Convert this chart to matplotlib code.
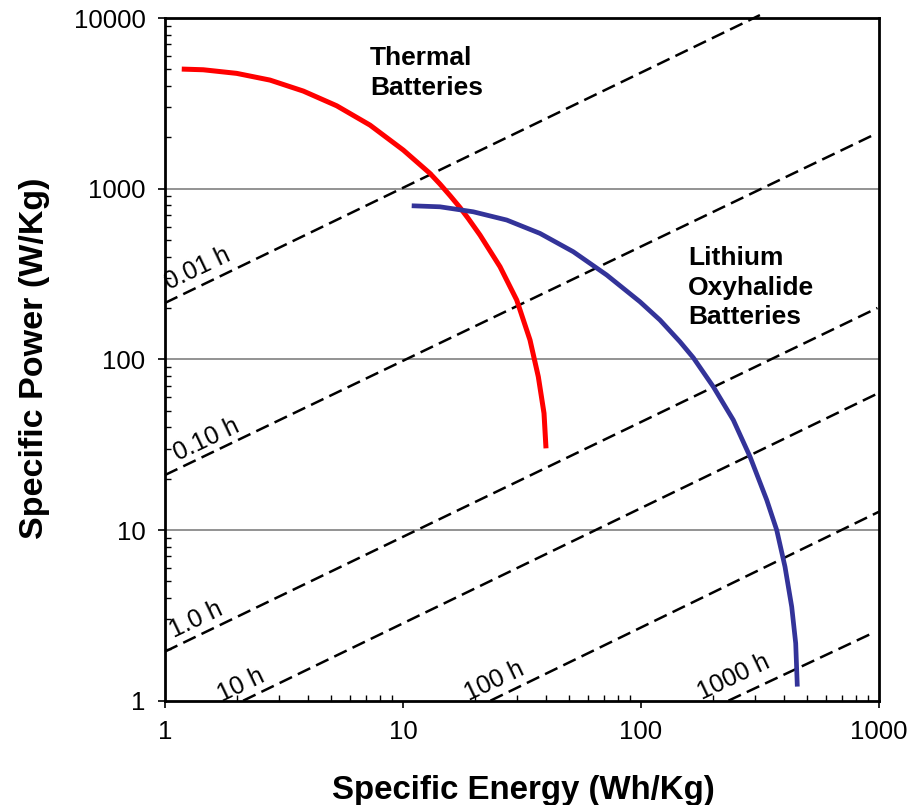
import matplotlib
matplotlib.use("Agg")
import matplotlib.pyplot as plt
from matplotlib.ticker import LogLocator, NullFormatter, FixedLocator, FixedFormatter

plt.rcParams['font.family'] = ['Liberation Sans', 'DejaVu Sans']

# ---- data ----
thermal_energy = [1.176, 1.448, 2.001, 2.762, 3.812, 5.265, 7.266, 10.03, 12.98, 14.30,
                  15.76, 17.36, 18.81, 21.06, 25.56, 30.05, 34.17, 37.03, 39.13, 39.89]
thermal_power = [5020, 4974, 4738, 4327, 3731, 3060, 2358, 1683, 1229, 1064,
                 911, 775, 668, 535, 349, 222.6, 129.8, 79.1, 48.3, 30.1]

lithium_energy = [10.88, 14.30, 19.74, 27.28, 37.63, 51.95, 71.77, 99.0, 120.2, 145.8,
                  165.9, 201.3, 244.3, 287.1, 337.5, 371.7, 402.7, 429.8, 446.7, 453.7]
lithium_power = [794, 783, 732, 655, 547, 427, 312, 217.5, 169.9, 126.8,
                 102.2, 69.1, 44.1, 26.9, 15.0, 10.0, 6.10, 3.55, 2.17, 1.21]

# constant-discharge-time guide lines: (E_start, P_start) -> (E_end, P_end)
time_labels = ["0.01 h", "0.10 h", "1.0 h", "10 h", "100 h", "1000 h"]
line_e_start = [1, 1, 1, 2.13, 23.3, 233]
line_p_start = [214, 21, 1.94, 1, 1, 1]
line_e_end = [316, 945, 985, 985, 1000, 946]
line_p_end = [10400, 2060, 200, 63, 12.8, 2.5]
label_e = [1.37, 1.49, 1.35, 2.08, 24.1, 246]
label_p = [338, 33.7, 2.97, 1.24, 1.30, 1.37]

x_ticks = [1, 10, 100, 1000]
x_ticklabels = ["1", "10", "100", "1000"]
y_ticks = [1, 10, 100, 1000, 10000]
y_ticklabels = ["1", "10", "100", "1000", "10000"]

fig = plt.figure(figsize=(9.09, 8.05), dpi=100)
ax = fig.add_axes([165/909, 1 - 700.7/805, (879-165)/909, (700.7-18)/805])
ax.set_xscale('log')
ax.set_yscale('log')
ax.set_xlim(1, 1000)
ax.set_ylim(1, 10000)

for yv in [10, 100, 1000]:
    ax.axhline(yv, color='#808080', lw=1.2, zorder=1)

for i in range(len(time_labels)):
    ax.plot([line_e_start[i], line_e_end[i]], [line_p_start[i], line_p_end[i]],
            color='black', lw=1.8, dashes=(5.5, 2.6), dash_capstyle='butt',
            clip_on=False, zorder=2)
    ax.text(label_e[i], label_p[i], time_labels[i], rotation=25.5,
            rotation_mode='anchor', ha='center', va='center', fontsize=18,
            clip_on=False, zorder=3)

ax.plot(thermal_energy, thermal_power, color='#ff0000', lw=3.6,
        solid_capstyle='butt', solid_joinstyle='round', zorder=4)
ax.plot(lithium_energy, lithium_power, color='#333399', lw=3.4,
        solid_capstyle='butt', solid_joinstyle='round', zorder=4)

ax.text(10 ** ((370 - 165) / 238), 10 ** ((700.7 - 46) / 170.7), "Thermal\nBatteries",
        fontsize=19, fontweight='bold', ha='left', va='top', linespacing=1.3)
ax.text(10 ** ((688 - 165) / 238), 10 ** ((700.7 - 246) / 170.7),
        "Lithium\nOxyhalide\nBatteries", fontsize=19, fontweight='bold',
        ha='left', va='top', linespacing=1.3)

ax.xaxis.set_major_locator(FixedLocator(x_ticks))
ax.xaxis.set_major_formatter(FixedFormatter(x_ticklabels))
ax.yaxis.set_major_locator(FixedLocator(y_ticks))
ax.yaxis.set_major_formatter(FixedFormatter(y_ticklabels))
ax.xaxis.set_minor_locator(LogLocator(base=10, subs=range(2, 10)))
ax.yaxis.set_minor_locator(LogLocator(base=10, subs=range(2, 10)))
ax.xaxis.set_minor_formatter(NullFormatter())
ax.yaxis.set_minor_formatter(NullFormatter())

ax.tick_params(which='major', direction='out', length=5, width=1.2,
               labelsize=18.5, top=False, right=False)
ax.tick_params(axis='x', which='major', pad=9)
ax.tick_params(axis='y', which='major', pad=9)
ax.tick_params(which='minor', direction='in', length=4, width=1.0,
               top=False, right=False)

for s in ax.spines.values():
    s.set_linewidth(2)
    s.set_color('black')

fig.text(523.7/909, 1 - 790/805, "Specific Energy (Wh/Kg)", fontsize=23.8,
         fontweight='bold', ha='center', va='center')
fig.text(35/909, 1 - 358/805, "Specific Power (W/Kg)", fontsize=24.5,
         fontweight='bold', ha='center', va='center', rotation=90)

fig.savefig("out.png", dpi=100)
